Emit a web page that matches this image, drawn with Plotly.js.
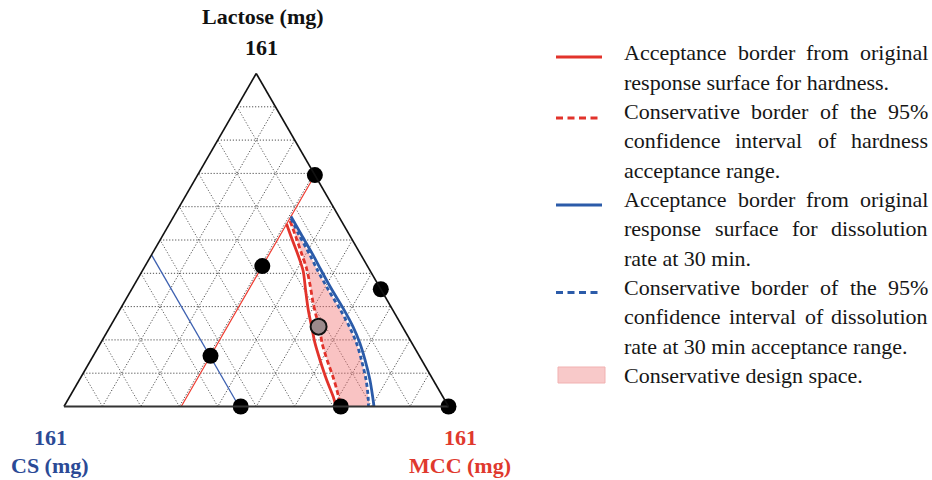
<!DOCTYPE html>
<html>
<head>
<meta charset="utf-8">
<script src="https://cdn.plot.ly/plotly-3.0.1.min.js"></script>
<style>
  html, body { margin: 0; padding: 0; background: #fff; }
  #chart { width: 932px; height: 480px; }
</style>
</head>
<body>
<div id="chart"></div>
<script>
// Blend composition in mg: Lactose (a), CS (b), MCC (c); every blend totals 161 mg.
const TOTAL = 161;

// Mixture design points
const designLactose = [111.9, 56.7, 0, 0, 0, 67.9, 24.5];
const designCS      = [0, 0, 0, 45.1, 87.0, 44.0, 87.4];
const designMCC     = [49.1, 104.3, 161, 115.9, 74.0, 49.1, 49.1];

// Centre point of the design space
const centreLactose = [38.6];
const centreCS      = [35.1];
const centreMCC     = [87.3];

// Constant-MCC line through the design points
const mccLineLactose = [111.9, 0];
const mccLineCS      = [0, 111.9];
const mccLineMCC     = [49.1, 49.1];

// Constant-CS line
const csLineLactose = [73.3, 0];
const csLineCS      = [87.7, 87.7];
const csLineMCC     = [0, 73.3];

// Hardness acceptance border (original response surface)
const hardLactose = [88.2, 81.3, 73.3, 65.5, 56.3, 46.7, 38.6, 30.6, 22.5, 12.8, 4.7, 0];
const hardCS      = [23.7, 25.0, 26.4, 28.1, 31.7, 35.4, 38.0, 40.6, 42.6, 44.6, 45.9, 47.1];
const hardMCC     = [49.1, 54.7, 61.4, 67.4, 73.0, 79.0, 84.4, 89.8, 96.0, 103.6, 110.4, 113.9];

// Hardness border, conservative limit of the 95% confidence interval
const hardCiLactose = [89.7, 82.0, 74.2, 67.0, 58.7, 50.5, 44.2, 38.4, 30.7, 22.0, 13.8, 6.0, 0];
const hardCiCS      = [21.5, 22.9, 24.5, 26.0, 28.6, 31.5, 33.4, 34.8, 37.6, 39.7, 41.3, 43.3, 45.2];
const hardCiMCC     = [49.8, 56.1, 62.3, 68.0, 73.7, 79.0, 83.4, 87.8, 92.7, 99.3, 105.9, 111.7, 115.8];

// Dissolution rate at 30 min acceptance border (original response surface)
const dissLactose = [91.9, 82.9, 73.3, 66.0, 56.3, 46.7, 38.6, 30.6, 22.5, 12.8, 4.7, 0];
const dissCS      = [20.0, 20.1, 20.1, 20.4, 20.6, 20.4, 20.7, 21.8, 23.7, 26.5, 29.4, 31.2];
const dissMCC     = [49.1, 58.0, 67.6, 74.6, 84.1, 93.9, 101.7, 108.6, 114.8, 121.7, 126.9, 129.8];

// Dissolution border, conservative limit of the 95% confidence interval
const dissCiLactose = [90.9, 82.9, 73.3, 66.0, 56.3, 46.7, 38.6, 30.6, 22.5, 12.8, 4.7, 0];
const dissCiCS      = [20.5, 21.1, 21.4, 21.9, 22.1, 21.9, 22.2, 23.2, 25.2, 28.1, 31.3, 33.5];
const dissCiMCC     = [49.6, 57.0, 66.3, 73.1, 82.6, 92.4, 100.2, 107.2, 113.3, 120.1, 125.0, 127.5];

// Vertex labels
const axisNames = ['Lactose (mg)', 'CS (mg)', 'MCC (mg)'];
const axisMaxLabel = '161';

// Legend paragraphs, one entry per printed line
const legendParagraphs = [
  ['Acceptance border from original', 'response surface for hardness.'],
  ['Conservative border of the 95%', 'confidence interval of hardness', 'acceptance range.'],
  ['Acceptance border from original', 'response surface for dissolution', 'rate at 30 min.'],
  ['Conservative border of the 95%', 'confidence interval of dissolution', 'rate at 30 min acceptance range.'],
  ['Conservative design space.']
];

// ---- styling ----
const RED = '#e2332b';
const BLUE = '#2b5ba9';
const RED_TEXT = '#e0392e';
const BLUE_TEXT = '#2b4a96';
const SERIF = 'Liberation Serif, Times New Roman, serif';
const W = 932, H = 480;
const px = x => x / W;
const py = y => 1 - y / H;

const rev = arr => arr.slice().reverse();

const traces = [
  {
    type: 'scatterternary', mode: 'lines', name: 'Conservative design space',
    a: hardCiLactose.concat(rev(dissCiLactose)),
    b: hardCiCS.concat(rev(dissCiCS)),
    c: hardCiMCC.concat(rev(dissCiMCC)),
    fill: 'toself', fillcolor: 'rgba(240,105,105,0.4)',
    line: { width: 0, shape: 'spline', smoothing: 0.8 },
    hoverinfo: 'skip'
  },
  {
    type: 'scatterternary', mode: 'lines',
    a: mccLineLactose, b: mccLineCS, c: mccLineMCC,
    line: { color: '#ee3b30', width: 1.2 }
  },
  {
    type: 'scatterternary', mode: 'lines',
    a: csLineLactose, b: csLineCS, c: csLineMCC,
    line: { color: '#3d60b0', width: 1.3 }
  },
  {
    type: 'scatterternary', mode: 'lines',
    a: hardLactose, b: hardCS, c: hardMCC,
    line: { color: RED, width: 2.8, shape: 'spline', smoothing: 0.8 }
  },
  {
    type: 'scatterternary', mode: 'lines',
    a: hardCiLactose, b: hardCiCS, c: hardCiMCC,
    line: { color: RED, width: 2.8, dash: '5px,3px', shape: 'spline', smoothing: 0.8 }
  },
  {
    type: 'scatterternary', mode: 'lines',
    a: dissLactose, b: dissCS, c: dissMCC,
    line: { color: BLUE, width: 2.8, shape: 'spline', smoothing: 0.8 }
  },
  {
    type: 'scatterternary', mode: 'lines',
    a: dissCiLactose, b: dissCiCS, c: dissCiMCC,
    line: { color: BLUE, width: 2.8, dash: '4px,3px', shape: 'spline', smoothing: 0.8 }
  },
  {
    type: 'scatterternary', mode: 'markers',
    a: designLactose, b: designCS, c: designMCC,
    marker: { color: '#000', size: 16 },
    cliponaxis: false
  },
  {
    type: 'scatterternary', mode: 'markers',
    a: centreLactose, b: centreCS, c: centreMCC,
    marker: { color: '#9b8a8c', size: 16, line: { color: '#111', width: 2 } },
    cliponaxis: false
  }
];

const axisStyle = (lineColor, lineWidth) => ({
  min: 0,
  title: { text: '' },
  showticklabels: false,
  ticks: '',
  tick0: 0,
  dtick: TOTAL / 10,
  showgrid: true,
  gridcolor: '#3a3a3a',
  gridwidth: 0.8,
  griddash: '1.2px,1.8px',
  linecolor: lineColor,
  linewidth: lineWidth,
  showline: true
});

const annotations = [];
const label = (text, x, y, color) => annotations.push({
  text: '<b>' + text + '</b>', x: px(x), y: py(y), xref: 'paper', yref: 'paper',
  xanchor: 'center', yanchor: 'middle', showarrow: false,
  font: { family: SERIF, size: 22, color: color }
});
label(axisNames[0], 263, 17, '#111');
label(axisMaxLabel, 261, 48, '#111');
label(axisMaxLabel, 50, 437, BLUE_TEXT);
label(axisNames[1], 50, 465, BLUE_TEXT);
label(axisMaxLabel, 460, 437, RED_TEXT);
label(axisNames[2], 460, 465, RED_TEXT);

// Legend text, justified between two margins except the last line of each paragraph
const measure = document.createElement('canvas').getContext('2d');
measure.font = "22px 'Liberation Serif'";
const TEXT_LEFT = 624, TEXT_RIGHT = 928, LINE_TOP = 53, LINE_STEP = 29.3;
const legendFont = { family: SERIF, size: 22, color: '#161616' };
let lineIndex = 0;
legendParagraphs.forEach(par => {
  par.forEach((line, i) => {
    const y = LINE_TOP + LINE_STEP * lineIndex;
    const justify = i < par.length - 1;
    if (!justify) {
      annotations.push({
        text: line, x: px(TEXT_LEFT), y: py(y), xref: 'paper', yref: 'paper',
        xanchor: 'left', yanchor: 'middle', showarrow: false, font: legendFont,
        borderpad: 0, borderwidth: 0
      });
    } else {
      const words = line.split(' ');
      const widths = words.map(w => measure.measureText(w).width);
      const total = widths.reduce((s, v) => s + v, 0);
      const gap = (TEXT_RIGHT - TEXT_LEFT - total) / (words.length - 1);
      let x = TEXT_LEFT;
      words.forEach((w, k) => {
        annotations.push({
          text: w, x: px(x), y: py(y), xref: 'paper', yref: 'paper',
          xanchor: 'left', yanchor: 'middle', showarrow: false, font: legendFont,
          borderpad: 0, borderwidth: 0
        });
        x += widths[k] + gap;
      });
    }
    lineIndex++;
  });
});

// Legend swatches
const swatchLine = (y, color, dash) => ({
  type: 'line', xref: 'paper', yref: 'paper',
  x0: px(556), x1: px(602), y0: py(y), y1: py(y),
  line: { color: color, width: 3, dash: dash || 'solid' }
});
const shapes = [
  swatchLine(57, RED),
  swatchLine(118, RED, '7px,4.5px'),
  swatchLine(205, BLUE),
  swatchLine(292.5, BLUE, '7px,4.5px'),
  {
    type: 'rect', xref: 'paper', yref: 'paper',
    x0: px(558), x1: px(605), y0: py(383), y1: py(367),
    fillcolor: '#f8c9c9', line: { color: '#f1b1b1', width: 1 }
  }
];

const layout = {
  width: W, height: H, autosize: false,
  margin: { l: 0, r: 0, t: 0, b: 0 },
  paper_bgcolor: '#fff',
  showlegend: false,
  hovermode: false,
  ternary: {
    sum: TOTAL,
    domain: { x: [64 / W, 448.5 / W], y: [1 - 406.5 / H, 1 - 73.5 / H] },
    bgcolor: '#fff',
    aaxis: axisStyle('#111', 1.6),
    baxis: axisStyle('#333', 2),
    caxis: axisStyle('#111', 1.6)
  },
  annotations: annotations,
  shapes: shapes
};

Plotly.newPlot('chart', traces, layout, { displayModeBar: false, staticPlot: true });
</script>
</body>
</html>
